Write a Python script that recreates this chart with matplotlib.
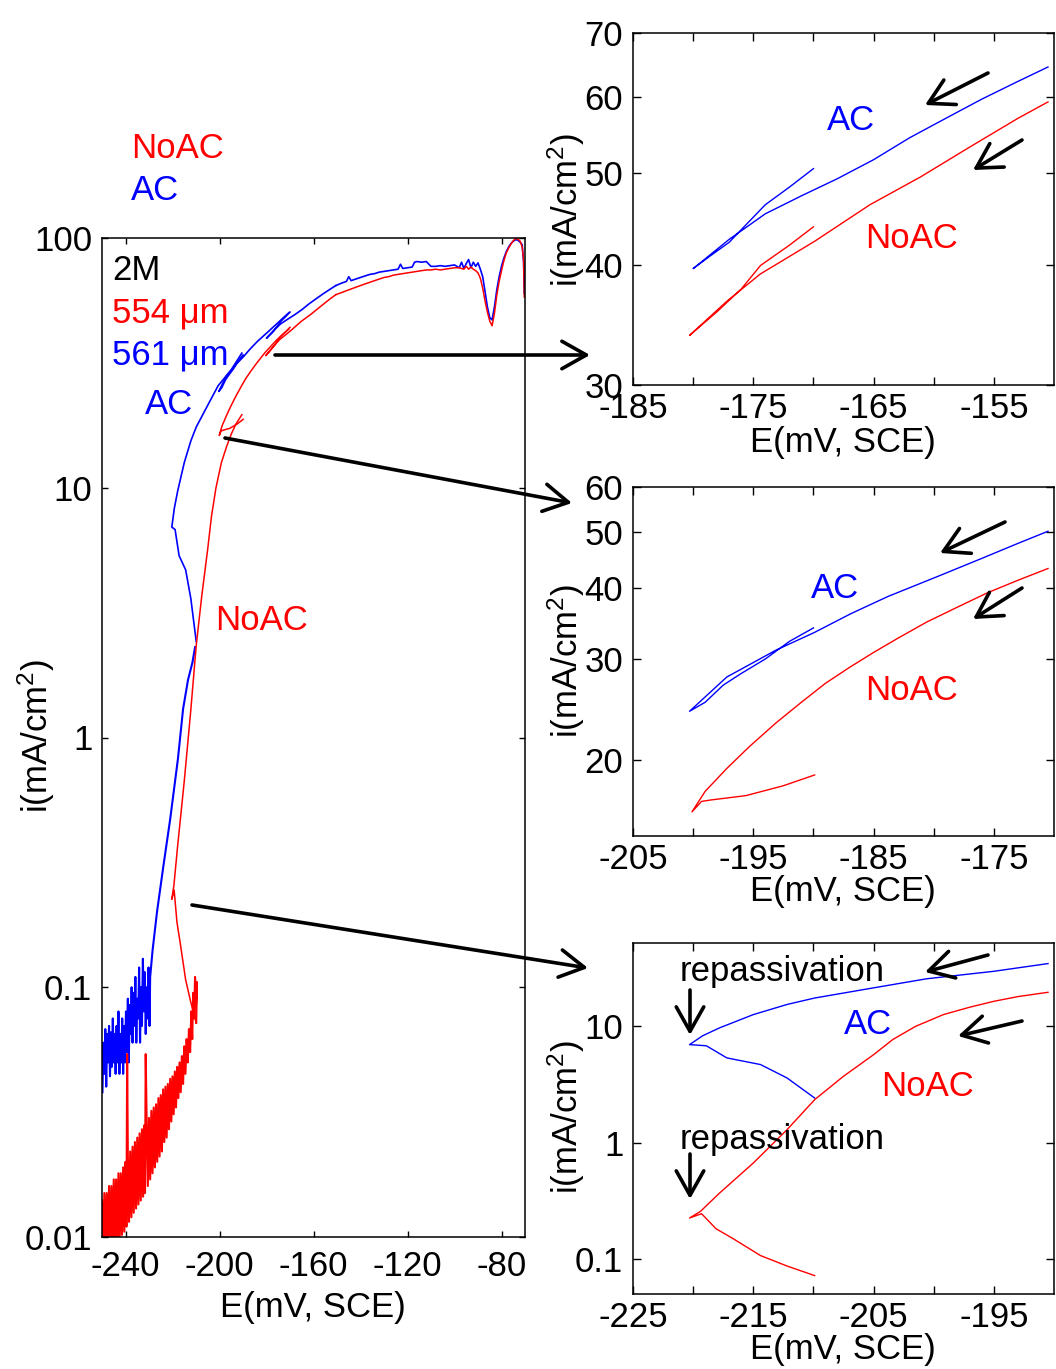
import matplotlib
matplotlib.use("Agg")
import matplotlib.pyplot as plt
from matplotlib.patches import FancyArrowPatch
from matplotlib.ticker import FixedLocator, FixedFormatter, NullLocator

plt.rcParams['font.family'] = ['Liberation Sans', 'DejaVu Sans']
plt.rcParams['mathtext.fontset'] = 'custom'
plt.rcParams['mathtext.rm'] = 'Liberation Sans'
plt.rcParams['mathtext.it'] = 'Liberation Sans:italic'
plt.rcParams['axes.unicode_minus'] = False

# ---------------- data: potential E (mV vs SCE), current density i (mA/cm2) ----------------
# high-current plateau, pitting dip and turning point
blue_top_E = [-150.5, -148, -146, -145, -144, -142, -140, -138, -136, -134, -132, -130, -128, -126,
              -124, -123, -122, -120, -118, -117, -116, -114, -112, -110, -108, -106, -104, -102,
              -100, -98, -97, -96, -95, -94, -93, -92, -91, -90, -89, -88, -87, -86, -85, -84,
              -83, -82, -81, -80, -79, -78, -77, -76, -75, -74, -73, -72, -71.2, -70.6, -70.3]
blue_top_i = [64.5, 66, 67, 70, 67.5, 68.5, 69.5, 70.5, 71.5, 72, 73, 73.5, 74, 74.5,
              75, 78.5, 75.5, 76, 76.5, 80, 80.5, 80, 80.5, 77, 77, 77.5, 77, 77.5,
              78, 76, 80, 75.5, 79, 82, 76, 80, 77, 79.5, 75, 70, 61, 53, 48, 47,
              53, 62, 70, 77, 83, 88, 92, 95, 97, 98.5, 98, 96, 94, 80, 60]

red_top_E = [-150.5, -148, -146, -144, -142, -140, -138, -136, -134, -132, -130, -128, -126, -124,
             -122, -120, -118, -116, -114, -112, -110, -108, -106, -104, -102, -100, -98, -96,
             -95, -94, -93, -92, -91, -90, -89, -88, -87, -86, -85, -84, -83, -82, -81, -80,
             -79, -78, -77, -76, -75, -74, -73, -72, -71.2, -70.6, -70.3]
red_top_i = [59.3, 60.5, 61.5, 62.5, 63.5, 64.5, 65.5, 66.5, 67.5, 68.5, 69.5, 70, 71, 71.5,
             72, 72.5, 73, 73.5, 74, 74.5, 74.5, 75, 74.5, 75, 75.5, 76, 76, 75,
             77, 75, 76.5, 75, 74, 72.5, 69, 63, 56, 50.5, 46.5, 44.5, 50, 59, 67, 74,
             81, 87, 91, 94.5, 97.5, 99.5, 99, 97, 92, 82, 58]

# reverse-scan cycle 1 (-150 -> -180 -> -170)
blue_c1_E = [-150.5, -153, -156, -159, -162, -165, -168, -171, -174, -177, -180,
             -178.5, -177, -176, -174, -172, -170]
blue_c1_i = [64.5, 62.3, 59.7, 57.0, 54.4, 51.6, 49.3, 47.3, 45.3, 42.6, 39.7,
             41.0, 42.3, 43.6, 46.3, 48.3, 50.5]
red_c1_E = [-150.5, -153, -157, -161.1, -165.3, -169.9, -174.4, -177.2, -180.3,
            -178, -176, -174.4, -172, -170]
red_c1_i = [59.3, 57.0, 53.2, 49.5, 46.3, 42.4, 39.2, 36.7, 33.8,
            35.8, 37.8, 40.0, 42.0, 43.9]

# reverse-scan cycle 2 (-170 -> -200 -> -190)
blue_c2_E = [-170.5, -173, -176, -179.6, -183.8, -186.9, -189.9, -193.1, -197.2, -200.3,
             -199, -197.5, -196, -194, -192, -190]
blue_c2_i = [50.2, 47.8, 45.0, 41.9, 38.6, 36.0, 33.4, 31.1, 27.9, 24.3,
             25.2, 27.0, 28.3, 30.0, 32.2, 34.0]
red_c2_E = [-170.5, -173, -175.5, -178, -180.6, -183, -185, -187, -189, -191, -193.1, -195.3,
            -197.2, -199, -200.1, -199.3, -198.5, -195.6, -192.5, -189.9]
red_c2_i = [43.2, 41.2, 39.2, 37.0, 34.8, 32.6, 30.8, 29.0, 27.2, 25.2, 23.2, 21.1,
            19.3, 17.6, 16.2, 16.9, 17.0, 17.3, 18.0, 18.8]

# reverse-scan cycle 3 (-190 -> -220 -> -210), repassivation at -220 mV
blue_c3_E = [-190.5, -195.0, -200.6, -205.0, -209.9, -212.2, -215.0, -217.8, -219.2, -220.3,
             -218.9, -217.2, -214.4, -212.2, -209.9]
blue_c3_i = [34.6, 29.7, 25.6, 21.4, 17.5, 15.4, 12.6, 9.7, 8.3, 6.96,
             6.8, 5.35, 4.69, 3.6, 2.42]
red_c3_E = [-190.5, -193, -195, -197, -199.2, -201.5, -203.4, -205, -207.5, -209.9, -212.2,
            -215, -217.8, -219.4, -220.3, -219.3, -218.1, -216.7, -214.4, -212.2, -209.9]
red_c3_i = [19.6, 18.0, 16.4, 14.6, 12.6, 10.0, 7.7, 5.7, 3.72, 2.34, 1.29,
            0.668, 0.369, 0.256, 0.225, 0.245, 0.182, 0.150, 0.107, 0.087, 0.072]

# final descent into the passive (noisy) region
blue_tail_E = [-210.4, -211.5, -213.4, -215.5, -217.7, -221.0, -224.0, -226.6, -228.5, -229.5,
               -229.8, -230.2, -230.6, -231.0, -231.4, -231.8, -232.2, -232.6, -233.0, -233.4,
               -233.8, -234.2, -234.6, -235.0, -235.4, -235.8, -236.2, -236.6, -237.0, -237.4,
               -237.8, -238.2, -238.6, -239.0, -239.4, -239.8, -240.2, -240.6, -241.0, -241.4,
               -241.8, -242.2, -242.6, -243.0, -243.4, -243.8, -244.2, -244.6, -245.0, -245.4,
               -245.8, -246.2, -246.6, -247.0, -247.4, -247.8, -248.2, -248.6, -249.0, -249.4,
               -249.8]
blue_tail_i = [2.3, 2.0, 1.7, 1.3, 0.82, 0.47, 0.30, 0.20, 0.14, 0.11,
               0.07, 0.12, 0.075, 0.10, 0.065, 0.115, 0.08, 0.13, 0.07, 0.10,
               0.06, 0.12, 0.075, 0.09, 0.06, 0.11, 0.07, 0.095, 0.06, 0.10,
               0.065, 0.085, 0.05, 0.09, 0.055, 0.08, 0.05, 0.07, 0.045, 0.075,
               0.05, 0.065, 0.045, 0.08, 0.05, 0.07, 0.045, 0.065, 0.05, 0.075,
               0.048, 0.066, 0.044, 0.07, 0.05, 0.065, 0.04, 0.068, 0.045, 0.06,
               0.038]

red_tail_E = [-209.9, -209.6, -210.0, -210.4, -210.8, -211.2, -211.6, -212.0, -212.5,
              -213.0, -213.5, -214.0, -214.5, -215.0, -215.5, -216.0, -216.5, -217.0, -217.5,
              -218.0, -218.5, -219.0, -219.5, -220.0, -220.5, -221.0, -221.5, -222.0, -222.5,
              -223.0, -223.5, -224.0, -224.5, -225.0, -225.5, -226.0, -226.5, -227.0, -227.5,
              -228.0, -228.5, -229.0, -229.5, -230.0, -230.5, -231.0, -231.4, -231.7, -232.0,
              -232.5, -233.0, -233.5, -234.0, -234.5, -235.0, -235.5, -236.0, -236.5, -237.0,
              -237.5, -238.0, -238.5, -239.0, -239.3, -239.6, -240.0, -240.5, -241.0, -241.5,
              -242.0, -242.5, -243.0, -243.5, -244.0, -244.5, -245.0, -245.5, -246.0, -246.5,
              -247.0, -247.5, -248.0, -248.5, -249.0, -249.5, -250.0]
red_tail_i = [0.072, 0.105, 0.085, 0.11, 0.075, 0.095, 0.062, 0.08, 0.055,
              0.068, 0.05, 0.062, 0.045, 0.058, 0.041, 0.053, 0.038, 0.05, 0.036,
              0.048, 0.033, 0.046, 0.031, 0.044, 0.029, 0.043, 0.027, 0.041, 0.025,
              0.040, 0.024, 0.039, 0.022, 0.037, 0.021, 0.036, 0.020, 0.034, 0.019,
              0.033, 0.018, 0.032, 0.017, 0.030, 0.016, 0.029, 0.054, 0.015, 0.028,
              0.0145, 0.027, 0.014, 0.026, 0.0135, 0.025, 0.013, 0.024, 0.0125, 0.023,
              0.012, 0.022, 0.0115, 0.021, 0.054, 0.011, 0.020, 0.0105, 0.019, 0.0102,
              0.018, 0.0098, 0.018, 0.0095, 0.017, 0.0093, 0.017, 0.009, 0.016, 0.009,
              0.016, 0.009, 0.015, 0.009, 0.015, 0.009, 0.014]

main_xticks = [-240, -200, -160, -120, -80]
main_yticks = [0.01, 0.1, 1, 10, 100]
main_ylabels = ['0.01', '0.1', '1', '10', '100']

inset1_xlim, inset1_ylim = (-185, -150), (30, 70)
inset1_yticks = [30, 40, 50, 60, 70]
inset2_xlim, inset2_ylim = (-205, -170), (14.7, 60)
inset2_yticks = [20, 30, 40, 50, 60]
inset3_xlim, inset3_ylim = (-225, -190), (0.05, 52)
inset3_yticks = [0.1, 1, 10]
inset3_ylabels = ['0.1', '1', '10']

RED, BLUE = '#ff0000', '#0000ff'
FS = 25

W, H = 1056, 1369
fig = plt.figure(figsize=(W / 100, H / 100), dpi=100)


def axes_px(left, top, right, bottom):
    return fig.add_axes([left / W, 1 - bottom / H, (right - left) / W, (bottom - top) / H])


def fx(x):
    return x / W


def fy(y):
    return 1 - y / H


def style(ax, xpad, ypad, tlen):
    ax.tick_params(which='both', direction='in', top=True, right=True, length=tlen,
                   width=1.0, labelsize=FS, colors='black')
    ax.tick_params(axis='x', pad=xpad)
    ax.tick_params(axis='y', pad=ypad)
    for s in ax.spines.values():
        s.set_linewidth(1.1)


# ---------------- main axes ----------------
ax = axes_px(102, 238, 525, 1237)
ax.set_yscale('log')
for E, I, lw in [(blue_top_E, blue_top_i, 1.2), (blue_c1_E, blue_c1_i, 1.2),
                 (blue_c2_E, blue_c2_i, 1.2), (blue_c3_E, blue_c3_i, 1.2),
                 (blue_tail_E, blue_tail_i, 1.5)]:
    ax.plot(E, I, color=BLUE, lw=lw)
for E, I, lw in [(red_top_E, red_top_i, 1.1), (red_c1_E, red_c1_i, 1.1),
                 (red_c2_E, red_c2_i, 1.1), (red_c3_E, red_c3_i, 1.1),
                 (red_tail_E, red_tail_i, 1.5)]:
    ax.plot(E, I, color=RED, lw=lw)
ax.set_xlim(-250, -70)
ax.set_ylim(0.01, 100)
ax.xaxis.set_major_locator(FixedLocator(main_xticks))
ax.yaxis.set_major_locator(FixedLocator(main_yticks))
ax.yaxis.set_major_formatter(FixedFormatter(main_ylabels))
ax.yaxis.set_minor_locator(NullLocator())
style(ax, 9.5, 7, 4)

fig.text(fx(313), fy(1307), 'E(mV, SCE)', fontsize=FS, ha='center', va='center')
fig.text(fx(36), fy(736), r'i(mA/cm$^{2}$)', fontsize=FS, rotation=90, ha='center', va='center')


# ---------------- zoomed panels ----------------
def inset(top, bottom, xlim, ylim, yticks, ylabels, series):
    a = axes_px(633, top, 1054, bottom)
    a.set_yscale('log')
    for E, I, c in series:
        a.plot(E, I, color=c, lw=1.0)
    a.set_xlim(*xlim)
    a.set_ylim(*ylim)
    xt = list(range(xlim[0], xlim[1], 5))
    a.xaxis.set_major_locator(FixedLocator(xt))
    a.xaxis.set_major_formatter(FixedFormatter([str(v) if k % 2 == 0 else '' for k, v in enumerate(xt)]))
    a.yaxis.set_major_locator(FixedLocator(yticks))
    a.yaxis.set_major_formatter(FixedFormatter(ylabels))
    a.yaxis.set_minor_locator(NullLocator())
    style(a, 5, 7, 6)
    return a


ax1 = inset(33, 385, inset1_xlim, inset1_ylim, inset1_yticks, [str(v) for v in inset1_yticks],
            [(blue_c1_E, blue_c1_i, BLUE), (red_c1_E, red_c1_i, RED)])
ax2 = inset(487, 836, inset2_xlim, inset2_ylim, inset2_yticks, [str(v) for v in inset2_yticks],
            [(blue_c2_E, blue_c2_i, BLUE), (red_c2_E, red_c2_i, RED)])
ax3 = inset(943, 1294, inset3_xlim, inset3_ylim, inset3_yticks, inset3_ylabels,
            [(blue_c3_E, blue_c3_i, BLUE), (red_c3_E, red_c3_i, RED)])

for yc, yl in [(442, 210), (892, 661), (1350, 1117)]:
    fig.text(fx(843), fy(yc), 'E(mV, SCE)', fontsize=FS, ha='center', va='center')
    fig.text(fx(566), fy(yl), r'i(mA/cm$^{2}$)', fontsize=FS, rotation=90, ha='center',
             va='center', zorder=0)

# ---------------- labels ----------------
def label(x, y, s, c, ha='left'):
    fig.text(fx(x), fy(y), s, color=c, fontsize=FS, ha=ha, va='center')


label(131, 148, 'NoAC', RED)
label(131, 190, 'AC', BLUE)
label(112, 271, '2M', 'black')
label(112, 313, '554 μm', RED)
label(112, 355, '561 μm', BLUE)
label(145, 405, 'AC', BLUE)
label(215, 621, 'NoAC', RED)

label(851, 121, 'AC', BLUE, 'center')
label(912, 238, 'NoAC', RED, 'center')
label(835, 588, 'AC', BLUE, 'center')
label(912, 691, 'NoAC', RED, 'center')
label(782, 971, 'repassivation', 'black', 'center')
label(868, 1024, 'AC', BLUE, 'center')
label(928, 1087, 'NoAC', RED, 'center')
label(782, 1140, 'repassivation', 'black', 'center')


# ---------------- arrows ----------------
def arrow(x0, y0, x1, y1, lw=2.6, scale=22):
    p = FancyArrowPatch((fx(x0), fy(y0)), (fx(x1), fy(y1)), transform=fig.transFigure,
                        arrowstyle='->,head_length=0.8,head_width=0.45', mutation_scale=scale,
                        lw=lw, color='black', shrinkA=0, shrinkB=0, zorder=5)
    fig.add_artist(p)


arrow(275, 355, 590, 355)
arrow(225, 438, 572, 503)
arrow(192, 905, 588, 968)

arrow(988, 73, 925, 105)
arrow(1022, 140, 973, 170)
arrow(1005, 522, 940, 553)
arrow(1022, 588, 973, 619)
arrow(988, 955, 925, 972)
arrow(1022, 1021, 958, 1036)
arrow(690, 990, 690, 1035)
arrow(690, 1154, 690, 1199)

fig.savefig('out.png', dpi=100)
